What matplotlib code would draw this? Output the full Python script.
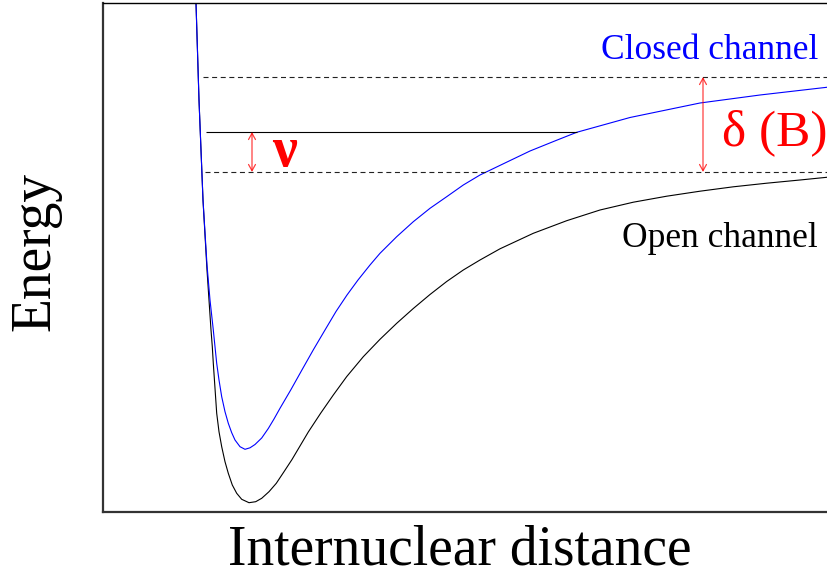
import matplotlib
matplotlib.use("Agg")
import matplotlib.pyplot as plt

plt.rcParams['font.family'] = ['Liberation Serif', 'DejaVu Serif']
plt.rcParams['lines.scale_dashes'] = False

# potential curves, internuclear distance r vs energy E (arbitrary units)
open_r = [0.93, 0.96, 1.00, 1.04, 1.06, 1.08, 1.093, 1.103, 1.12, 1.137, 1.16, 1.187,
          1.22, 1.253, 1.293, 1.337, 1.387, 1.46, 1.527, 1.587, 1.66, 1.733, 1.81,
          1.89, 1.97, 2.053, 2.178, 2.303, 2.437, 2.603, 2.77, 2.937, 3.103, 3.27,
          3.437, 3.603, 3.77, 3.97, 4.303, 4.637, 4.97, 5.303, 5.637, 5.97, 6.303,
          6.637, 6.97, 7.237]
open_E = [5.09, 4.12, 3.12, 2.42, 2.12, 1.82, 1.653, 1.487, 1.237, 0.987, 0.803, 0.653,
          0.503, 0.387, 0.27, 0.187, 0.127, 0.093, 0.103, 0.137, 0.203, 0.287, 0.403,
          0.525, 0.66, 0.80, 0.99, 1.17, 1.354, 1.553, 1.727, 1.887, 2.035, 2.175,
          2.305, 2.42, 2.52, 2.632, 2.787, 2.913, 3.02, 3.098, 3.158, 3.208, 3.252,
          3.288, 3.32, 3.347]

closed_r = [0.93, 0.96, 1.00, 1.04, 1.07, 1.103, 1.12, 1.137, 1.16, 1.187, 1.22, 1.253,
            1.287, 1.32, 1.37, 1.42, 1.47, 1.52, 1.587, 1.653, 1.71, 1.77, 1.88, 1.993,
            2.105, 2.22, 2.33, 2.44, 2.55, 2.67, 2.77, 2.937, 3.103, 3.27, 3.437,
            3.603, 3.77, 4.03, 4.27, 4.53, 4.737, 5.27, 5.97, 6.57, 7.237]
closed_E = [5.09, 4.12, 3.12, 2.47, 2.12, 1.82, 1.653, 1.487, 1.32, 1.153, 1.003, 0.887,
            0.793, 0.72, 0.653, 0.627, 0.642, 0.675, 0.74, 0.835, 0.93, 1.037, 1.225,
            1.427, 1.625, 1.82, 2.005, 2.17, 2.32, 2.47, 2.587, 2.753, 2.903, 3.037,
            3.153, 3.27, 3.37, 3.495, 3.61, 3.715, 3.797, 3.945, 4.09, 4.17, 4.247]

# thresholds and the bound level
closed_threshold = 4.35
open_threshold = 3.40
bound_level = 3.80
bound_r = (1.03, 4.737)
threshold_start = (1.00, 1.02)

nu_r = 1.49
delta_r = 6.00

fig = plt.figure(figsize=(8.28, 5.76), dpi=100)
ax = fig.add_axes([103 / 828, 64 / 576, 729 / 828, 509 / 576])
ax.set_xlim(0, 7.29)
ax.set_ylim(0, 5.09)
ax.set_xticks([])
ax.set_yticks([])
for side in ('left', 'bottom'):
    ax.spines[side].set_linewidth(1.6)
    ax.spines[side].set_color('#333333')
ax.spines['top'].set_linewidth(1.0)
ax.spines['right'].set_visible(False)

ax.plot(open_r, open_E, color='black', lw=0.8, solid_joinstyle='round')
ax.plot(closed_r, closed_E, color='#0000ff', lw=0.8, solid_joinstyle='round')

ax.hlines(closed_threshold, threshold_start[0], 7.29, color='#222222', lw=0.8,
          linestyles=(0, (3.6, 2.6)))
ax.hlines(open_threshold, threshold_start[1], 7.29, color='#222222', lw=0.8,
          linestyles=(0, (3.6, 2.6)))
ax.hlines(bound_level, bound_r[0], bound_r[1], color='black', lw=0.8)

arrow = dict(arrowstyle='<->,head_length=0.45,head_width=0.25', color='red',
             alpha=0.75, lw=0.9, shrinkA=0, shrinkB=0)
ax.annotate('', xy=(nu_r, bound_level), xytext=(nu_r, open_threshold), arrowprops=arrow)
ax.annotate('', xy=(delta_r, closed_threshold), xytext=(delta_r, open_threshold),
            arrowprops=arrow)

ax.text(1.82, 3.60, 'ν', color='red', fontsize=40, fontweight='bold',
        ha='center', va='center')
ax.text(7.25, 3.79, 'δ (B)', color='red', fontsize=37, ha='right', va='center')

ax.text(7.15, 4.53, 'Closed channel', color='#0000ff', fontsize=25.5, ha='right',
        va='baseline')
ax.text(7.15, 2.65, 'Open channel', color='black', fontsize=25.5, ha='right',
        va='baseline')

ax.set_xlabel('Internuclear distance', fontsize=40, va='baseline')
ax.xaxis.set_label_coords(0.490, -0.104)
ax.set_ylabel('Energy', fontsize=40, va='baseline')
ax.yaxis.set_label_coords(-0.073, 0.511)

fig.savefig('out.png', dpi=100)
